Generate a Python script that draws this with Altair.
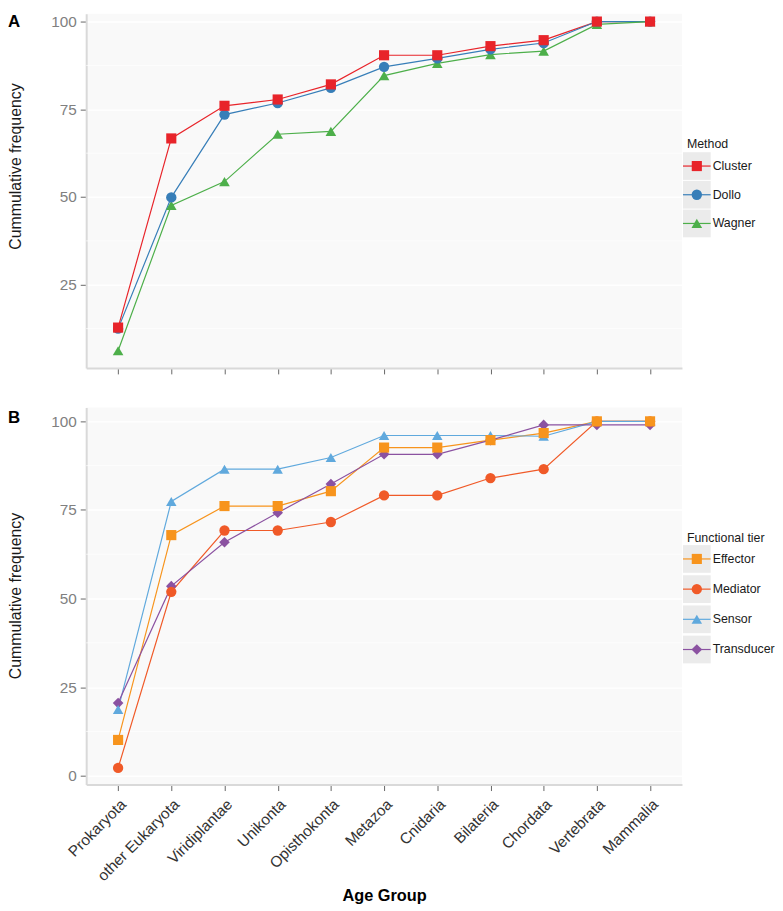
import altair as alt
import pandas as pd

# ---------------- data ----------------
categories = ["Prokaryota", "other Eukaryota", "Viridiplantae", "Unikonta",
              "Opisthokonta", "Metazoa", "Cnidaria", "Bilateria", "Chordata",
              "Vertebrata", "Mammalia"]

methods = ["Cluster", "Dollo", "Wagner"]
cluster = [12.8, 66.7, 76.0, 77.8, 82.1, 90.4, 90.4, 93.0, 94.7, 100.0, 100.0]
dollo = [12.5, 49.9, 73.5, 76.8, 81.1, 87.1, 89.5, 92.1, 93.9, 100.0, 100.0]
wagner = [6.2, 47.6, 54.4, 67.9, 68.7, 84.6, 88.1, 90.6, 91.6, 99.2, 100.0]

tiers = ["Effector", "Mediator", "Sensor", "Transducer"]
effector = [10.1, 67.9, 76.1, 76.1, 80.3, 92.6, 92.6, 94.7, 96.7, 100.0, 100.0]
mediator = [2.2, 51.9, 69.2, 69.2, 71.6, 79.1, 79.1, 84.0, 86.5, 100.0, 100.0]
sensor = [18.7, 77.4, 86.5, 86.5, 89.8, 96.0, 96.0, 96.0, 95.8, 100.0, 100.0]
transducer = [20.5, 53.5, 65.9, 74.2, 82.3, 90.7, 90.7, 94.7, 99.0, 99.0, 99.0]

y_ticks_a = [25, 50, 75, 100]
y_ticks_b = [0, 25, 50, 75, 100]
minor_ticks = [12.5, 37.5, 62.5, 87.5]

# ---------------- style ----------------
FONT = "Liberation Sans"
W = 602
BG = "#F9F9F9"


def long_df(names, series):
    rows = []
    for name, vals in zip(names, series):
        for i, (c, v) in enumerate(zip(categories, vals)):
            rows.append({"series": name, "age": c, "idx": i, "value": v})
    return pd.DataFrame(rows)


def panel(names, series, colors, shapes, sizes, ydomain, yticks, height,
          letter, letter_y, legend_title, key_top, key_step, x_labels, title_y):
    df = long_df(names, series)
    rank = {n: len(names) - 1 - k for k, n in enumerate(names)}
    pts = df.assign(draw=df["series"].map(rank)).sort_values(["draw", "idx"])

    cscale = alt.Scale(domain=names, range=colors)
    sscale = alt.Scale(domain=names, range=shapes)
    zscale = alt.Scale(domain=names, range=sizes)
    color = alt.Color("series:N", scale=cscale, legend=None)
    shape = alt.Shape("series:N", scale=sscale, legend=None)
    size = alt.Size("series:N", scale=zscale, legend=None)

    if x_labels:
        xaxis = alt.Axis(title="Age Group", labelAngle=-45, labelAlign="right",
                         labelBaseline="top", labelFontSize=15.5, labelColor="#333333",
                         labelPadding=6, labelFont=FONT, titleFont=FONT,
                         titleFontSize=16.5, titleFontWeight="bold", titleColor="black",
                         titlePadding=4, domainColor="#D9D9D9", domainWidth=2,
                         tickColor="#666666", tickSize=6, gridColor="white",
                         gridWidth=1.2)
    else:
        xaxis = alt.Axis(title=None, labels=False, domainColor="#D9D9D9",
                         domainWidth=2, tickColor="#666666", tickSize=6,
                         gridColor="white", gridWidth=1.2)

    x = alt.X("age:N", sort=categories,
              scale=alt.Scale(type="point", domain=categories, padding=0.6),
              axis=xaxis)
    y = alt.Y("value:Q",
              scale=alt.Scale(domain=ydomain, nice=False, zero=False),
              axis=alt.Axis(values=yticks, title="Cummulative frequency",
                            labelFontSize=15.5, labelColor="#808080", labelFont=FONT,
                            labelPadding=4, tickColor="#666666", tickSize=6,
                            domainColor="#D9D9D9", domainWidth=2,
                            gridColor="white", gridWidth=1.4,
                            titleFont=FONT, titleFontSize=16, titleFontWeight="normal",
                            titleColor="#1a1a1a", titleAngle=270, titleAlign="center",
                            titleBaseline="bottom", titleX=-63, titleY=title_y))

    minor = alt.Chart(pd.DataFrame({"m": minor_ticks})).mark_rule(
        color="white", strokeWidth=0.7).encode(y="m:Q")

    lines = alt.Chart(df).mark_line(strokeWidth=1.2).encode(
        x=x, y=y, color=color, order=alt.Order("idx:Q"))

    points = alt.Chart(pts).mark_point(filled=True, opacity=1, strokeWidth=0).encode(
        x=x, y=y, color=color, shape=shape, size=size)

    # manual ggplot-style legend
    leg = pd.DataFrame({"series": names,
                        "py": [key_top + k * key_step for k in range(len(names))]})
    ly = alt.Y("py:Q", scale=None, axis=None)
    kx = W + 15
    key_bg = alt.Chart(leg).mark_point(shape="square", filled=True, color="#EBEBEB",
                                       opacity=1, size=784, strokeWidth=0).encode(
        x=alt.value(kx), y=ly)
    key_line = alt.Chart(leg).mark_point(shape="M-1,0L1,0", filled=False, opacity=1,
                                         strokeWidth=1.2, size=784).encode(
        x=alt.value(kx), y=ly, color=color)
    key_sym = alt.Chart(leg).mark_point(filled=True, opacity=1, strokeWidth=0).encode(
        x=alt.value(kx), y=ly, color=color, shape=shape, size=size)
    key_lab = alt.Chart(leg).mark_text(align="left", baseline="middle", fontSize=12.5,
                                       font=FONT, color="#1a1a1a").encode(
        x=alt.value(kx + 16), y=ly, text="series:N")
    leg_title = alt.Chart(pd.DataFrame({"t": [legend_title]})).mark_text(
        align="left", baseline="middle", fontSize=12.5, font=FONT, color="#1a1a1a").encode(
        x=alt.value(W + 5), y=alt.value(132), text="t:N")

    letter_mark = alt.Chart(pd.DataFrame({"t": [letter]})).mark_text(
        align="left", baseline="top", fontSize=17, font=FONT, fontWeight="bold",
        color="black").encode(x=alt.value(-79), y=alt.value(letter_y), text="t:N")

    return alt.layer(minor, lines, points, key_bg, key_line, key_sym, key_lab,
                     leg_title, letter_mark).properties(width=W, height=height)


panel_a = panel(methods, [cluster, dollo, wagner],
                ["#E8242A", "#377EB8", "#4DAF4A"],
                ["square", "circle", "triangle-up"],
                [105, 115, 175],
                [1.3, 102.26], y_ticks_a, 358, "A", 0, "Method", 154, 29,
                False, 154)

panel_b = panel(tiers, [effector, mediator, sensor, transducer],
                ["#F7941D", "#F05A28", "#60A9DD", "#8B52A1"],
                ["square", "circle", "triangle-up", "diamond"],
                [105, 115, 175, 115],
                [-2.5, 103.9], y_ticks_b, 381, "B", 3, "Functional tier", 153, 30.5,
                True, 190)

chart = alt.vconcat(panel_a, panel_b, spacing=33).resolve_scale(
    color="independent", shape="independent", size="independent",
    x="independent", y="independent"
).properties(
    padding=0
).configure_view(fill=BG, strokeWidth=0)

chart.save("out.html", embed_options={"renderer": "svg", "actions": False})
